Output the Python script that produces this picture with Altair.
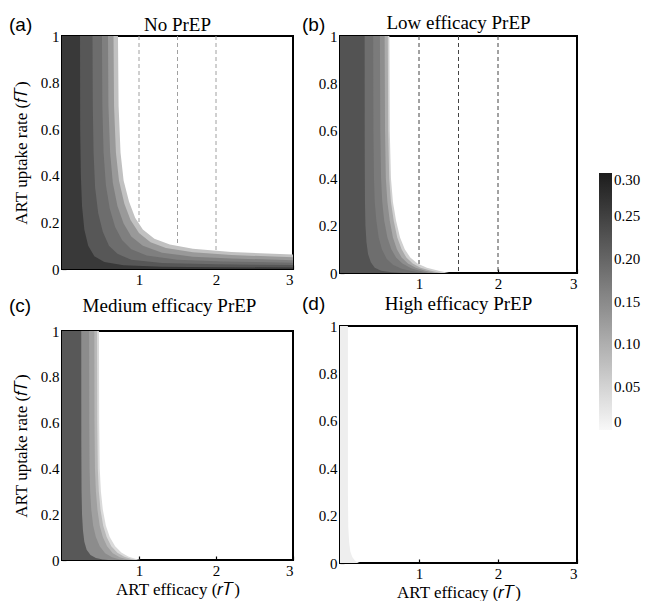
import altair as alt
import pandas as pd

FONT = "Liberation Serif"

TITLES = ["No PrEP", "Low efficacy PrEP", "Medium efficacy PrEP", "High efficacy PrEP"]
LETTERS = ["(a)", "(b)", "(c)", "(d)"]
X_TICKS = [1, 2, 3]
Y_TICKS = [0, 0.2, 0.4, 0.6, 0.8, 1]
LEGEND_TICKS = [0, 0.05, 0.1, 0.15, 0.2, 0.25, 0.3]
DASH_X = [1, 1.5, 2]
Y_TITLE = "ART uptake rate (\U0001D453\U0001D447)"
X_TITLE = "ART efficacy (\U0001D45F\U0001D447)"

# ---- Panel (a): No PrEP  (bands listed darkest / innermost first)
A_LEVELS = [0.26, 0.22, 0.19, 0.165, 0.13, 0.075]
A_X = [
    [0, 0.234, 0.236, 0.245, 0.26, 0.29, 0.34, 0.42, 0.55, 0.8, 1.3, 2.0, 3.0],
    [0, 0.396, 0.40, 0.41, 0.43, 0.47, 0.53, 0.61, 0.72, 0.9, 1.3, 2.0, 3.0],
    [0, 0.519, 0.524, 0.54, 0.57, 0.62, 0.69, 0.78, 0.9, 1.1, 1.5, 2.1, 3.0],
    [0, 0.597, 0.603, 0.625, 0.66, 0.72, 0.80, 0.9, 1.05, 1.3, 1.7, 2.2, 3.0],
    [0, 0.669, 0.676, 0.70, 0.74, 0.81, 0.89, 1.0, 1.15, 1.35, 1.7, 2.2, 3.0],
    [0, 0.727, 0.735, 0.76, 0.80, 0.87, 0.95, 1.05, 1.2, 1.4, 1.7, 2.2, 3.0],
]
A_Y = [
    [1, 1, 0.6, 0.4, 0.27, 0.17, 0.10, 0.055, 0.03, 0.016, 0.010, 0.008, 0.006],
    [1, 1, 0.7, 0.5, 0.35, 0.24, 0.16, 0.10, 0.065, 0.04, 0.026, 0.02, 0.017],
    [1, 1, 0.7, 0.5, 0.36, 0.26, 0.18, 0.125, 0.085, 0.058, 0.04, 0.032, 0.027],
    [1, 1, 0.7, 0.5, 0.37, 0.27, 0.195, 0.14, 0.10, 0.07, 0.053, 0.045, 0.038],
    [1, 1, 0.7, 0.5, 0.38, 0.28, 0.21, 0.155, 0.115, 0.09, 0.072, 0.06, 0.05],
    [1, 1, 0.7, 0.5, 0.38, 0.29, 0.22, 0.17, 0.13, 0.105, 0.087, 0.073, 0.062],
]

# ---- Panel (b): Low efficacy PrEP
B_LEVELS = [0.225, 0.188, 0.17, 0.145, 0.106, 0.055]
B_X = [
    [0, 0.312, 0.313, 0.316, 0.322, 0.335, 0.355, 0.39, 0.44, 0.52, 0.65, 0.8],
    [0, 0.42, 0.423, 0.43, 0.44, 0.46, 0.49, 0.53, 0.59, 0.67, 0.78, 0.92, 1.05],
    [0, 0.505, 0.51, 0.52, 0.535, 0.56, 0.6, 0.65, 0.71, 0.79, 0.9, 1.02, 1.12],
    [0, 0.565, 0.57, 0.58, 0.60, 0.63, 0.67, 0.72, 0.78, 0.86, 0.96, 1.08, 1.2],
    [0, 0.605, 0.61, 0.623, 0.645, 0.68, 0.725, 0.78, 0.84, 0.92, 1.02, 1.15, 1.28],
    [0, 0.625, 0.63, 0.645, 0.67, 0.71, 0.76, 0.82, 0.89, 0.98, 1.1, 1.25, 1.38],
]
B_Y = [
    [1, 1, 0.5, 0.3, 0.2, 0.13, 0.08, 0.045, 0.022, 0.01, 0.003, 0],
    [1, 1, 0.6, 0.4, 0.3, 0.22, 0.15, 0.10, 0.06, 0.035, 0.018, 0.007, 0],
    [1, 1, 0.6, 0.4, 0.3, 0.22, 0.15, 0.1, 0.065, 0.04, 0.02, 0.008, 0],
    [1, 1, 0.6, 0.4, 0.3, 0.22, 0.15, 0.1, 0.065, 0.04, 0.022, 0.01, 0],
    [1, 1, 0.6, 0.4, 0.3, 0.22, 0.15, 0.1, 0.065, 0.04, 0.022, 0.01, 0],
    [1, 1, 0.6, 0.4, 0.3, 0.22, 0.15, 0.1, 0.065, 0.04, 0.022, 0.01, 0],
]

# ---- Panel (c): Medium efficacy PrEP
C_LEVELS = [0.218, 0.147, 0.12, 0.087, 0.041]
C_X = [
    [0, 0.25, 0.251, 0.254, 0.26, 0.272, 0.29, 0.32, 0.37, 0.44, 0.53, 0.6],
    [0, 0.352, 0.354, 0.358, 0.366, 0.38, 0.405, 0.44, 0.49, 0.56, 0.65, 0.74, 0.8],
    [0, 0.42, 0.422, 0.428, 0.44, 0.46, 0.49, 0.53, 0.585, 0.66, 0.75, 0.84, 0.9],
    [0, 0.455, 0.458, 0.465, 0.478, 0.5, 0.535, 0.58, 0.64, 0.72, 0.81, 0.9, 0.97],
    [0, 0.48, 0.483, 0.49, 0.505, 0.53, 0.57, 0.62, 0.69, 0.77, 0.86, 0.95, 1.02],
]
C_Y = [
    [1, 1, 0.5, 0.3, 0.2, 0.13, 0.08, 0.045, 0.022, 0.009, 0.002, 0],
    [1, 1, 0.6, 0.4, 0.3, 0.22, 0.15, 0.1, 0.06, 0.03, 0.012, 0.003, 0],
    [1, 1, 0.6, 0.4, 0.3, 0.22, 0.15, 0.1, 0.06, 0.03, 0.012, 0.003, 0],
    [1, 1, 0.6, 0.4, 0.3, 0.22, 0.15, 0.1, 0.06, 0.032, 0.014, 0.004, 0],
    [1, 1, 0.6, 0.4, 0.3, 0.22, 0.15, 0.1, 0.06, 0.033, 0.015, 0.005, 0],
]

# ---- Panel (d): High efficacy PrEP
D_LEVELS = [0.014]
D_X = [[0, 0.1, 0.1, 0.105, 0.115, 0.13, 0.155, 0.19, 0.23, 0.25]]
D_Y = [[1, 1, 0.3, 0.15, 0.09, 0.05, 0.025, 0.01, 0.002, 0]]

color_scale = alt.Scale(domain=[0, 0.3], range=["#f8f8f8", "#1c1c1c"], interpolate="rgb")
legend = alt.Legend(
    title=None, orient="none", legendX=537, legendY=137, direction="vertical",
    gradientLength=257, gradientThickness=13, values=LEGEND_TICKS,
    labelExpr="datum.value == 0 ? '0' : format(datum.value, '.2f')",
    labelFont=FONT, labelFontSize=15, labelColor="black", labelOffset=2,
    gradientStrokeWidth=0, padding=0,
)


def panel(idx, levels, xs, ys, w, h, dash_color, show_y_title, show_x_title,
          title_dx, title_dy, letter_dx, letter_dy):
    x_axis = alt.Axis(values=X_TICKS, format="~g", domain=False, grid=False,
                      offset=-4, tickSize=4, tickWidth=1.2, tickColor="black",
                      labelPadding=3, labelFont=FONT, labelFontSize=15, labelColor="black",
                      title=X_TITLE if show_x_title else None, titleFont=FONT,
                      titleFontSize=17, titleFontWeight="normal", titleColor="black",
                      titlePadding=3)
    y_axis = alt.Axis(values=Y_TICKS, format="~g", domain=False, grid=False,
                      offset=-4, tickSize=4, tickWidth=1.2, tickColor="black",
                      labelPadding=3, labelFont=FONT, labelFontSize=15, labelColor="black",
                      title=Y_TITLE if show_y_title else None, titleFont=FONT,
                      titleFontSize=17, titleFontWeight="normal", titleColor="black",
                      titlePadding=10)
    xenc = alt.X("x:Q", scale=alt.Scale(domain=[0, 3], nice=False), axis=x_axis)
    yenc = alt.Y("y:Q", scale=alt.Scale(domain=[0, 1], nice=False), axis=y_axis, stack=None)
    layers = []
    if dash_color:
        layers.append(
            alt.Chart(pd.DataFrame({"x": DASH_X}))
            .mark_rule(color=dash_color, strokeDash=[4, 3], strokeWidth=1)
            .encode(x=xenc)
        )
    for k in reversed(range(len(levels))):
        df = pd.DataFrame({"x": xs[k], "y": ys[k], "v": [levels[k]] * len(xs[k])})
        layers.append(
            alt.Chart(df)
            .mark_area(orient="vertical", clip=True, interpolate="linear")
            .encode(x=xenc, y=yenc,
                    color=alt.Color("v:Q", scale=color_scale, legend=legend))
        )
    layers.append(
        alt.Chart(pd.DataFrame({"t": [LETTERS[idx]]}))
        .mark_text(font="Liberation Sans", fontSize=19, align="left",
                   baseline="alphabetic", color="black")
        .encode(text="t:N", x=alt.value(letter_dx), y=alt.value(letter_dy))
    )
    layers.append(
        alt.Chart(pd.DataFrame({"t": [TITLES[idx]]}))
        .mark_text(font=FONT, fontSize=19, align="center",
                   baseline="alphabetic", color="black")
        .encode(text="t:N", x=alt.value(w / 2 + title_dx), y=alt.value(title_dy))
    )
    return alt.layer(*layers).properties(width=w, height=h)


pa = panel(0, A_LEVELS, A_X, A_Y, 231, 233, "#a0a0a0", True, False, 0, -5, -53, -5)
pb = panel(1, B_LEVELS, B_X, B_Y, 237, 237, "#444444", False, False, 0, -7, -38, -5)
pc = panel(2, C_LEVELS, C_X, C_Y, 231, 229, None, True, True, -8, -19, -53, -19)
pd_ = panel(3, D_LEVELS, D_X, D_Y, 237, 237, None, False, True, 0, -16, -38, -16)

left = alt.vconcat(pa, pc, spacing=62, bounds="flush").resolve_scale(
    x="independent", y="independent", color="shared")
right = alt.vconcat(pb, pd_, spacing=53, bounds="flush").resolve_scale(
    x="independent", y="independent", color="shared")

chart = (
    alt.hconcat(left, right, spacing=6)
    .resolve_scale(x="independent", y="independent", color="shared")
    .resolve_legend(color="shared")
    .properties(padding={"left": 0, "right": 0, "top": 5, "bottom": 0})
    .configure(font=FONT)
    .configure_view(stroke="black", strokeWidth=2)
)

chart.save("out.html", embed_options={"renderer": "svg", "actions": False})
